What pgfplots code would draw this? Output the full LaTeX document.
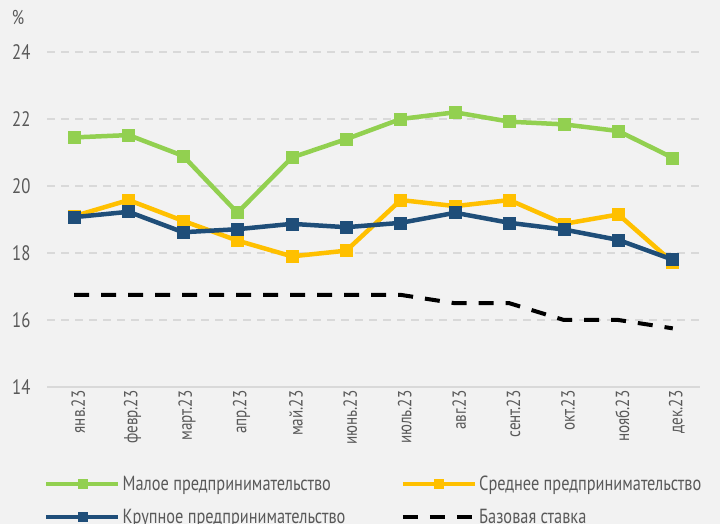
\documentclass[border=0pt]{standalone}
\usepackage{pgfplots}
\pgfplotsset{compat=1.18}
\usepackage{fontspec}
\setmainfont[FakeStretch=0.8]{PT Sans}
\definecolor{bg}{HTML}{F2F2F2}
\definecolor{txt}{HTML}{595959}
\definecolor{gridc}{HTML}{D9D9D9}
\definecolor{cgreen}{HTML}{92D050}
\definecolor{cyellow}{HTML}{FFC000}
\definecolor{cblue}{HTML}{1F4E79}
\begin{document}
\begin{tikzpicture}
\fill[bg] (0,0) rectangle (720bp,524bp);
\useasboundingbox (0,0) rectangle (720bp,524bp);
\begin{axis}[
  at={(47bp,137bp)}, anchor=south west,
  scale only axis, width=653bp, height=335bp,
  xmin=-0.5, xmax=11.5, ymin=14, ymax=24,
  xtick={0,...,11},
  xticklabels={янв.23, февр.23, март.23, апр.23, май.23, июнь.23, июль.23, авг.23, сент.23, окт.23, нояб.23, дек.23},
  ytick={14,16,...,24},
  /pgf/number format/assume math mode=true,
  major tick length=0pt,
  axis x line*=bottom, axis y line*=left,
  x axis line style={-, draw=gridc, line width=2bp},
  y axis line style={draw=none},
  ymajorgrids,
  grid style={gridc, line width=2bp, dash pattern=on 8bp off 6bp},
  xticklabel style={rotate=90, anchor=east, font=\fontsize{19}{22}\selectfont, text=txt, yshift=-4bp},
  yticklabel style={font=\fontsize{21}{24}\selectfont, text=txt, xshift=-13bp},
  ylabel={\%},
  ylabel style={rotate=-90, at={(rel axis cs:0,1)}, anchor=center, xshift=-29bp, yshift=34bp, font=\fontsize{20}{22}\selectfont, text=txt},
  every axis plot/.append style={line width=4.5bp},
  mark size=6bp,
  clip=false,
  legend columns=2,
  legend cell align=left,
  legend style={at={(0,0)}, anchor=north west, xshift=-3bp, yshift=-87bp, draw=none, fill=none, inner sep=0pt,
    font=\fontsize{20.5}{24}\selectfont, text=txt, row sep=13bp,
    /tikz/every even column/.append style={column sep=0bp},
    nodes={inner xsep=2bp}},
  legend image code/.code={\draw[mark repeat=2,mark phase=2,mark size=4.5bp,#1] plot coordinates {(0bp,0bp) (36bp,0bp) (72bp,0bp)};},
]
\addplot[cgreen, mark=square*, mark options={solid, line width=0.6bp}] coordinates {
(0,21.45) (1,21.52) (2,20.9) (3,19.2) (4,20.85) (5,21.4) (6,22.0) (7,22.2) (8,21.92) (9,21.84) (10,21.64) (11,20.84)};
\addlegendentry{\makebox[276bp][l]{Малое предпринимательство}}
\addplot[cyellow, mark=square*, mark options={solid, line width=0.6bp}] coordinates {
(0,19.1) (1,19.58) (2,18.96) (3,18.37) (4,17.9) (5,18.07) (6,19.58) (7,19.4) (8,19.58) (9,18.87) (10,19.15) (11,17.72)};
\addlegendentry{Среднее предпринимательство}
\addplot[cblue, mark=square*, mark options={solid, line width=0.6bp}] coordinates {
(0,19.07) (1,19.23) (2,18.62) (3,18.71) (4,18.87) (5,18.77) (6,18.9) (7,19.2) (8,18.9) (9,18.7) (10,18.39) (11,17.8)};
\addlegendentry{\makebox[276bp][l]{Крупное предпринимательство}}
\addplot[black, line width=4bp, dash pattern=on 15bp off 12bp] coordinates {
(0,16.75) (1,16.75) (2,16.75) (3,16.75) (4,16.75) (5,16.75) (6,16.75) (7,16.5) (8,16.5) (9,16.0) (10,16.0) (11,15.75)};
\addlegendentry{Базовая ставка}
\end{axis}
\end{tikzpicture}
\end{document}
